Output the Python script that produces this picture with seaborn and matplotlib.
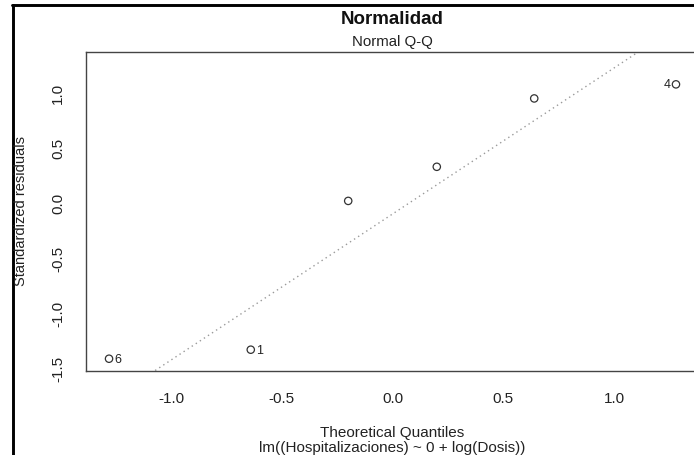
import matplotlib
matplotlib.use("Agg")
import matplotlib.pyplot as plt
from matplotlib.lines import Line2D
import numpy as np
import pandas as pd
import seaborn as sns

# Q-Q data (sorted by theoretical quantile)
theoretical = [-1.28, -0.64, -0.20, 0.20, 0.64, 1.28]
std_resid = [-1.42, -1.338, 0.014, 0.324, 0.945, 1.073]
obs_id = [6, 1, 3, 2, 5, 4]
labelled = [6, 1, 4]

xticks = [-1.0, -0.5, 0.0, 0.5, 1.0]
yticks = [-1.5, -1.0, -0.5, 0.0, 0.5, 1.0]
xlim = (-1.384, 1.384)
ylim = (-1.527, 1.367)
NORM_Q = 0.6745  # standard normal quartile, used for the reference line

df = pd.DataFrame({"x": theoretical, "y": std_resid, "obs": obs_id})

sns.set_style("white")
plt.rcParams["font.family"] = ["Liberation Sans", "DejaVu Sans"]

fig = plt.figure(figsize=(6.94, 4.56), dpi=100)
ax = fig.add_axes([86 / 694, 1 - 371.5 / 456, 613 / 694, 318.5 / 456])

sns.scatterplot(data=df, x="x", y="y", ax=ax, marker="o", s=28,
                facecolor="none", edgecolor="#333333", linewidth=0.9)

# qqline through the quartiles
q1, q3 = np.quantile(std_resid, [0.25, 0.75])
slope = (q3 - q1) / (2 * NORM_Q)
intercept = q1 + slope * NORM_Q
ax.axline((0, intercept), slope=slope, color="#9a9a9a", lw=1.0,
          linestyle=(0, (1, 2.5)))

for _, r in df.iterrows():
    if r["obs"] not in labelled:
        continue
    if r["x"] > 0:
        ax.annotate(str(int(r["obs"])), (r["x"], r["y"]), xytext=(-4, 0),
                    textcoords="offset points", ha="right", va="center",
                    fontsize=9, color="#222222")
    else:
        ax.annotate(str(int(r["obs"])), (r["x"], r["y"]), xytext=(4, 0),
                    textcoords="offset points", ha="left", va="center",
                    fontsize=9, color="#222222")

ax.set_xlim(*xlim)
ax.set_ylim(*ylim)
ax.set_xticks(xticks)
ax.set_yticks(yticks)
ax.set_xticklabels([f"{v:.1f}" for v in xticks])
ax.set_yticklabels([f"{v:.1f}" for v in yticks], rotation=90, va="center")
ax.tick_params(axis="both", direction="out", length=6, width=0.9,
               color="#444444", labelsize=11, labelcolor="#222222")
ax.tick_params(axis="x", pad=9)
ax.tick_params(axis="y", pad=9)
ax.set_xlabel("")
ax.set_ylabel("")
for sp in ax.spines.values():
    sp.set_color("#444444")
    sp.set_linewidth(1.0)

cx = (86 + 699) / 2 / 694
fig.text(cx, 1 - 19 / 456, "Normalidad", ha="center", va="center",
         fontsize=13.5, fontweight="bold", color="#111111")
fig.text(cx, 1 - 42 / 456, "Normal Q-Q", ha="center", va="center",
         fontsize=10.8, color="#222222")
fig.text(cx, 1 - 433 / 456, "Theoretical Quantiles", ha="center",
         va="center", fontsize=11, color="#222222")
fig.text(cx, 1 - 448 / 456, "lm((Hospitalizaciones) ~ 0 + log(Dosis))",
         ha="center", va="center", fontsize=11, color="#222222")
fig.text(21 / 694, 1 - 211 / 456, "Standardized residuals", ha="center",
         va="center", rotation=90, fontsize=10.5, color="#222222")

# window border from the screenshot
fig.add_artist(Line2D([12.5 / 694, 12.5 / 694], [0, 1 - 5.5 / 456],
                      color="black", lw=2.1, transform=fig.transFigure))
fig.add_artist(Line2D([11.5 / 694, 1], [1 - 5.5 / 456, 1 - 5.5 / 456],
                      color="black", lw=2.1, transform=fig.transFigure))

fig.savefig("out.png", dpi=100)
